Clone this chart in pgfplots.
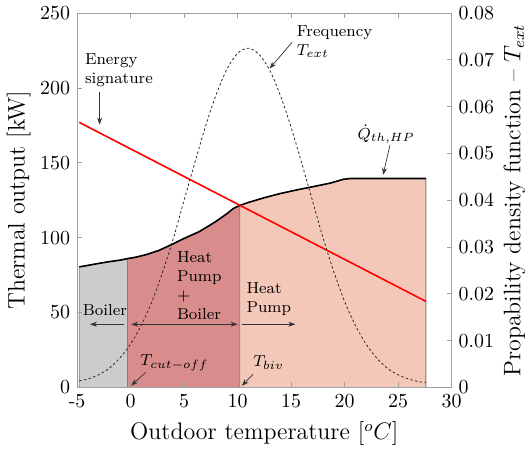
\documentclass[border=0pt]{standalone}
\usepackage{pgfplots}
\pgfplotsset{compat=1.18}
\usetikzlibrary{arrows.meta}
\definecolor{boilergray}{HTML}{CCCCCC}
\definecolor{hybridred}{HTML}{D98C8C}
\definecolor{hpsalmon}{HTML}{F4C8B8}
\definecolor{axgray}{HTML}{A0A0A0}
\definecolor{edge}{HTML}{8A7A76}

\begin{document}
\begin{tikzpicture}[
  ann/.style={-{Stealth[length=3.5pt,width=2.5pt]},line width=.35pt,black!80},
  ]
\pgfplotsset{
  every axis/.append style={
    width=188pt,height=188pt,scale only axis,
    xmin=-5,xmax=30,
    axis line style={axgray},
    every tick/.style={axgray},
    tick align=inside,major tick length=2.5pt,
    tick label style={font=\normalsize},
    label style={font=\large},
  }}
\begin{axis}[
  ymin=0,ymax=250,axis on top,
  xtick={-5,0,...,30},xticklabels={-5,0,5,10,15,20,25,30},
  ytick={0,50,...,250},ytick pos=left,
  xlabel={Outdoor temperature [$^oC$]},
  ylabel={Thermal output [kW]},
  ylabel style={yshift=-2pt},
  clip=false]
% boiler only
\addplot[fill=boilergray,draw=edge,line width=.4pt] coordinates
 {(-4.8,0) (-4.8,80.5) (-4,81.5) (-3,82.8) (-2,84) (-1,85) (-0.3,86) (-0.3,0)} -- cycle;
% heat pump + boiler
\addplot[fill=hybridred,draw=edge,line width=.4pt] coordinates
 {(-0.3,0) (-0.3,86) (0.5,87) (1.5,88.8) (2.65,91.5) (4,96) (5,99.5) (6.4,104)
  (7.9,110.5) (9,116) (9.6,119.5) (10.2,121.5) (10.2,0)} -- cycle;
% heat pump only
\addplot[fill=hpsalmon,draw=edge,line width=.4pt] coordinates
 {(10.2,0) (10.2,121.5) (11,123.5) (12.5,126.7) (14,129.5) (15.6,132) (17,134)
  (18.7,136.5) (19.9,139) (20.5,139.5) (27.6,139.5) (27.6,0)} -- cycle;
% heat pump capacity
\addplot[black,line width=.8pt] coordinates
 {(-4.8,80.5) (-4,81.5) (-3,82.8) (-2,84) (-1,85) (-0.3,86) (0.5,87) (1.5,88.8)
  (2.65,91.5) (4,96) (5,99.5) (6.4,104) (7.9,110.5) (9,116) (9.6,119.5) (10.2,121.5)
  (11,123.5) (12.5,126.7) (14,129.5) (15.6,132) (17,134) (18.7,136.5) (19.9,139)
  (20.5,139.5) (27.6,139.5)};
% energy signature
\addplot[red,line width=.8pt] coordinates {(-4.8,177) (27.6,57.5)};

\node[anchor=west,align=left,font=\footnotesize,inner sep=0pt] at (axis cs:-4.3,212) {Energy\\signature};
\draw[ann] (axis cs:-2.9,197) -- (axis cs:-2.9,175.5);
\node[anchor=west,align=left,font=\footnotesize,inner sep=0pt] at (axis cs:15.5,231) {Frequency\\$T_{ext}$};
\draw[ann] (axis cs:15.1,230.5) -- (axis cs:13,213);
\node[font=\footnotesize] at (axis cs:23.9,169) {$\dot{Q}_{th,HP}$};
\draw[ann] (axis cs:24.25,162) -- (axis cs:23.6,142);

\node[anchor=west,align=left,font=\footnotesize,inner sep=0pt] at (axis cs:4.3,68) {Heat\\Pump\\+\\Boiler};
\node[font=\footnotesize,inner sep=0pt] at (axis cs:-2.4,51.5) {Boiler};
\node[anchor=west,align=left,font=\footnotesize,inner sep=0pt] at (axis cs:10.8,59) {Heat\\Pump};
\draw[ann] (axis cs:-0.6,42.2) -- (axis cs:-3.8,42.2);
\draw[ann,{Stealth[length=3.5pt,width=2.5pt]}-{Stealth[length=3.5pt,width=2.5pt]}] (axis cs:0.05,42.2) -- (axis cs:10,42.2);
\draw[ann] (axis cs:10.4,42.2) -- (axis cs:15.4,42.2);
\node[font=\footnotesize] at (axis cs:4.1,16.7) {$T_{cut-off}$};
\draw[ann] (axis cs:1.4,10) -- (axis cs:0.05,1.2);
\node[font=\footnotesize] at (axis cs:12.9,16.7) {$T_{biv}$};
\draw[ann] (axis cs:11.45,8.9) -- (axis cs:10.4,1.1);
\end{axis}

\begin{axis}[
  ymin=0,ymax=0.08,
  axis x line=none,axis y line*=right,
  ytick={0,0.01,...,0.08},ytick pos=right,
  scaled y ticks=false,
  yticklabel style={/pgf/number format/fixed,/pgf/number format/precision=2},
  ylabel={Propability density function -- $T_{ext}$},
  ylabel style={yshift=2pt}]
\addplot[black!85,dash pattern=on 1.2pt off 1.2pt,line width=.4pt,smooth] coordinates
 {(-4.8,0.0014) (-4,0.0018) (-3,0.0027) (-2,0.0041) (-1,0.0063) (0,0.0093)
  (1,0.0133) (2,0.0184) (3,0.0247) (4,0.0319) (5,0.0400) (6,0.0480) (7,0.0558)
  (8,0.0626) (9,0.0680) (10,0.0714) (11,0.0725) (12,0.0712) (13,0.0678)
  (14,0.0624) (15,0.0556) (16,0.0479) (17,0.0399) (18,0.0319) (19,0.0247)
  (20,0.0184) (21,0.0133) (22,0.0093) (23,0.0063) (24,0.0041) (25,0.0027)
  (26,0.0018) (27,0.0012) (27.6,0.0011)};
\end{axis}
\end{tikzpicture}
\end{document}
